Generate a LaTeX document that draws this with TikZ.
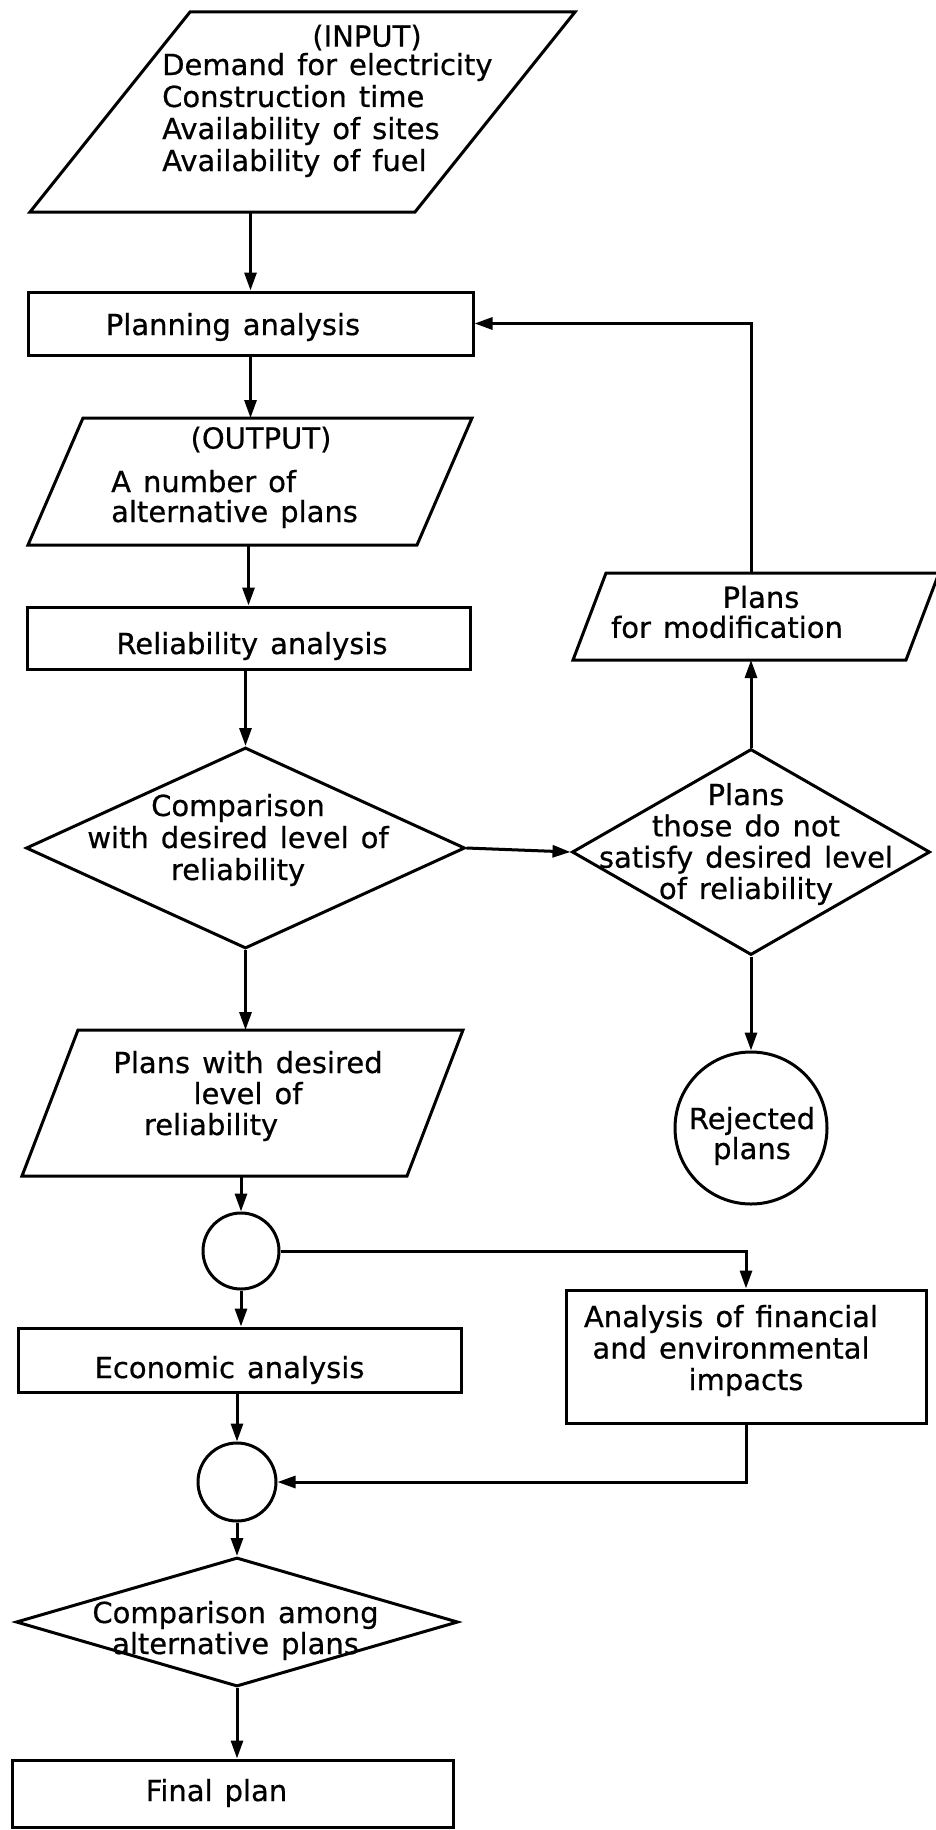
\documentclass[tikz,border=0pt]{standalone}
\usepackage{fontspec}
\setmainfont{DejaVu Sans}[WordSpace=1.3,FakeBold=0.6]
\usetikzlibrary{arrows.meta,shapes.geometric}
\begin{document}
\begin{tikzpicture}[x=1pt,y=-1pt,
  every node/.style={font=\fontsize{29}{32}\selectfont},
  line/.style={line width=3pt,line join=miter},
  arr/.style={line width=3pt,-{Triangle[length=18pt,width=12pt]}},
  box/.style={draw,line width=3pt,rectangle,inner sep=0pt},
  dia/.style={draw,line width=3pt,diamond,inner sep=0pt},
  circ/.style={draw,line width=3pt,circle,inner sep=0pt},
  body/.style={rectangle,inner sep=0pt,outer sep=0pt},
  txt/.style={inner sep=0pt,align=center},
]
\path[fill=white,use as bounding box] (0,0) rectangle (935,1830);

% ---- shapes ----
\node[body,minimum width=545pt,minimum height=200pt] (input) at (302.5,112) {};
\draw[line] ([xshift=160pt]input.north west) -- (input.north east) -- ([xshift=-160pt]input.south east) -- (input.south west) -- cycle;

\node[box,minimum width=445pt,minimum height=63pt] (planning) at (250.5,323.5) {};

\node[body,minimum width=444pt,minimum height=127pt] (output) at (250,481.5) {};
\draw[line] ([xshift=55pt]output.north west) -- (output.north east) -- ([xshift=-55pt]output.south east) -- (output.south west) -- cycle;

\node[box,minimum width=443pt,minimum height=62pt] (reliability) at (248.5,638) {};

\node[dia,minimum width=439pt,minimum height=201pt] (d1) at (245.5,848) {};

\node[body,minimum width=441pt,minimum height=146pt] (pw) at (242.5,1103) {};
\draw[line] ([xshift=56pt]pw.north west) -- (pw.north east) -- ([xshift=-56pt]pw.south east) -- (pw.south west) -- cycle;

\node[body,minimum width=366pt,minimum height=87pt] (mod) at (756,616.5) {};
\draw[line] ([xshift=33pt]mod.north west) -- (mod.north east) -- ([xshift=-33pt]mod.south east) -- (mod.south west) -- cycle;

\node[dia,minimum width=358pt,minimum height=206pt] (d2) at (751,852) {};
\node[circ,minimum size=152pt] (rej) at (751,1128) {};

\node[circ,minimum size=76pt] (c1) at (241,1251) {};
\node[box,minimum width=443pt,minimum height=64pt] (economic) at (239.5,1360) {};
\node[box,minimum width=360pt,minimum height=133pt] (analysis) at (746,1356.5) {};
\node[circ,minimum size=78pt] (c2) at (237,1482) {};
\node[dia,minimum width=442pt,minimum height=129pt] (d3) at (237,1622) {};
\node[box,minimum width=441pt,minimum height=67pt] (final) at (232.5,1793.5) {};

% ---- texts ----
\node[txt] (t-input) at (367,37.5) {(INPUT)};
\node[txt,align=left,anchor=west] (t-input2) at (162,115) {Demand for electricity\\Construction time\\Availability of sites\\Availability of fuel};
\node[txt] (t-plan) at (233,327) {Planning analysis};
\node[txt] (t-out) at (261,439.5) {(OUTPUT)};
\node[txt,align=left,anchor=west,font=\fontsize{29}{30}\selectfont] (t-out2) at (111,499) {A number of\\alternative plans};
\node[txt] (t-rel) at (252,646) {Reliability analysis};
\node[txt] (t-d1) at (238,840) {Comparison\\with desired level of\\reliability};
\node[txt,font=\fontsize{29}{31}\selectfont] (t-pw) at (248,1096) {Plans with desired\\level of\\reliability\rule{74pt}{0pt}};
\node[txt,font=\fontsize{29}{30}\selectfont] (t-mod) at (727,612) {\rule{68pt}{0pt}Plans\\for modification};
\node[txt,font=\fontsize{29}{31.3}\selectfont] (t-d2) at (746,844) {Plans\\those do not\\satisfy desired level\\of reliability};
\node[txt,font=\fontsize{29}{30}\selectfont] (t-rej) at (752,1136) {Rejected\\plans};
\node[txt,font=\fontsize{29}{31.5}\selectfont] (t-an) at (731,1350.5) {Analysis of financial\\and environmental\\\rule{30pt}{0pt}impacts};
\node[txt] (t-eco) at (229.5,1370) {Economic analysis};
\node[txt,font=\fontsize{29}{31}\selectfont] (t-d3) at (235.5,1630.5) {Comparison among\\alternative plans};
\node[txt] (t-fin) at (216.5,1793) {Final plan};

% ---- connectors ----
\draw[arr] (planning.north |- input.south) -- (planning.north);
\draw[arr] (planning.south) -- (planning.south |- output.north);
\draw[arr] (output.south -| reliability.north) -- (reliability.north);
\draw[arr] (d1.north |- reliability.south) -- (d1.north);
\draw[arr] (d1.south) -- (d1.south |- pw.north);
\draw[arr] (c1.north |- pw.south) -- (c1.north);
\draw[arr] (c1.south) -- (c1.south |- economic.north);
\draw[arr] (c2.north |- economic.south) -- (c2.north);
\draw[arr] (c2.south) -- (d3.north);
\draw[arr] (d3.south) -- (d3.south |- final.north);
\draw[arr] (d1.east) -- (d2.west);
\draw[arr] (d2.north) -- (d2.north |- mod.south);
\draw[arr] (d2.south) -- (rej.north);
\draw[arr] (d2.north |- mod.north) |- (planning.east);
\draw[arr] (c1.east) -| (analysis.north);
\draw[arr] (analysis.south) |- (c2.east);
\end{tikzpicture}
\end{document}
